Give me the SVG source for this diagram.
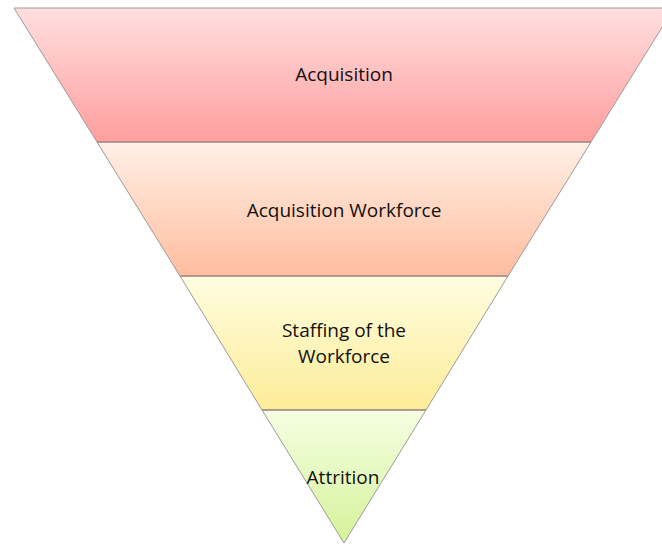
<svg xmlns="http://www.w3.org/2000/svg" width="662" height="544" viewBox="0 0 662 544">
<style>
.band{stroke:#9a9a9a;stroke-width:1}
.sep{stroke:#b08a86;stroke-width:2;opacity:0.7}
.lbl{font-family:"Open Sans","Liberation Sans",Arial,sans-serif;font-size:19px;fill:#111111;text-anchor:middle}
</style>
<defs>
<linearGradient id="g1" x1="0" y1="0" x2="0" y2="1"><stop offset="0" stop-color="#ffdfdf"/><stop offset="1" stop-color="#ff9e9e"/></linearGradient>
<linearGradient id="g2" x1="0" y1="0" x2="0" y2="1"><stop offset="0" stop-color="#fff0e6"/><stop offset="1" stop-color="#ffbd9f"/></linearGradient>
<linearGradient id="g3" x1="0" y1="0" x2="0" y2="1"><stop offset="0" stop-color="#fffde0"/><stop offset="1" stop-color="#fdec98"/></linearGradient>
<linearGradient id="g4" x1="0" y1="0" x2="0" y2="1"><stop offset="0" stop-color="#f6ffe4"/><stop offset="1" stop-color="#d4f29a"/></linearGradient>
</defs>
<g id="acquisition">
<polygon class="band" fill="url(#g1)" points="14,8 674,8 591,142 97,142"/>
<text class="lbl" x="344" y="81">Acquisition</text>
</g>
<g id="acquisition-workforce">
<polygon class="band" fill="url(#g2)" points="97,142 591,142 508,276 180,276"/>
<text class="lbl" x="344" y="217">Acquisition Workforce</text>
</g>
<g id="staffing">
<polygon class="band" fill="url(#g3)" points="180,276 508,276 426,410 262,410"/>
<text class="lbl" x="344" y="337">Staffing of the</text>
<text class="lbl" x="344" y="363">Workforce</text>
</g>
<g id="attrition">
<polygon class="band" fill="url(#g4)" points="262,410 426,410 344,543"/>
<text class="lbl" x="343" y="484">Attrition</text>
</g>
<g id="connectors">
<line class="sep" x1="97" y1="142" x2="591" y2="142"/>
<line class="sep" x1="180" y1="276" x2="508" y2="276"/>
<line class="sep" x1="262" y1="410" x2="426" y2="410"/>
</g>
</svg>
